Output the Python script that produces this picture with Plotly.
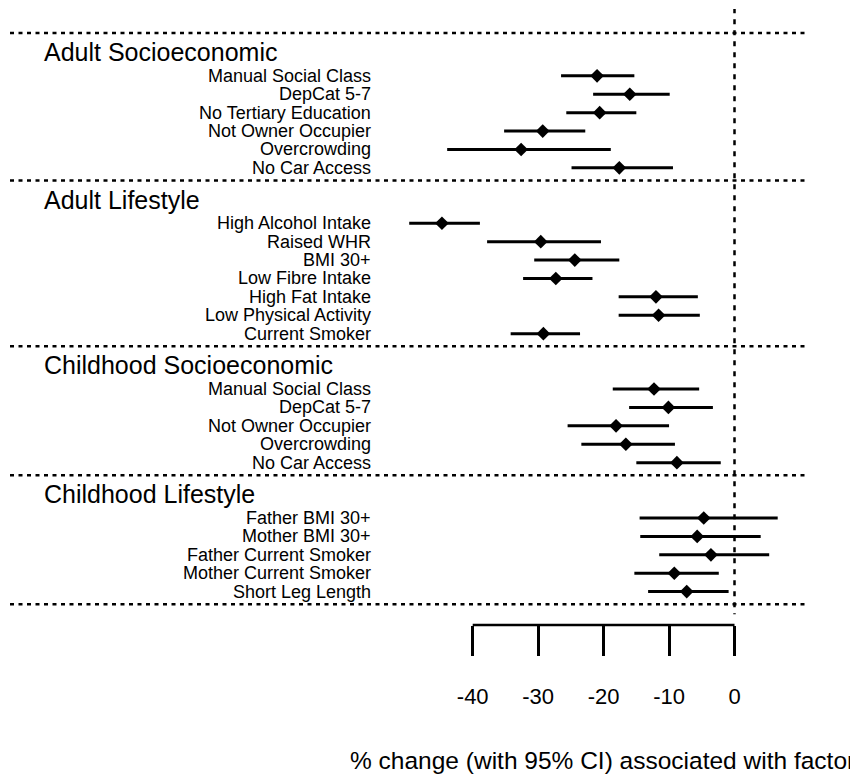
import plotly.graph_objects as go

# ---- data ----
group_names = ["Adult Socioeconomic", "Adult Lifestyle",
               "Childhood Socioeconomic", "Childhood Lifestyle"]
group_sizes = [6, 7, 5, 5]
factor_labels = [
    "Manual Social Class", "DepCat 5-7", "No Tertiary Education",
    "Not Owner Occupier", "Overcrowding", "No Car Access",
    "High Alcohol Intake", "Raised WHR", "BMI 30+", "Low Fibre Intake",
    "High Fat Intake", "Low Physical Activity", "Current Smoker",
    "Manual Social Class", "DepCat 5-7", "Not Owner Occupier",
    "Overcrowding", "No Car Access",
    "Father BMI 30+", "Mother BMI 30+", "Father Current Smoker",
    "Mother Current Smoker", "Short Leg Length",
]
estimate = [-21.0, -16.0, -20.6, -29.3, -32.6, -17.6,
            -44.7, -29.6, -24.4, -27.3, -12.0, -11.6, -29.2,
            -12.3, -10.1, -18.1, -16.6, -8.8,
            -4.7, -5.7, -3.6, -9.2, -7.3]
ci_lower = [-26.5, -21.6, -25.7, -35.2, -43.9, -24.9,
            -49.7, -37.8, -30.6, -32.3, -17.7, -17.7, -34.2,
            -18.6, -16.1, -25.5, -23.4, -15.0,
            -14.5, -14.4, -11.5, -15.3, -13.2]
ci_upper = [-15.3, -9.9, -15.0, -22.8, -18.9, -9.4,
            -38.9, -20.4, -17.6, -21.7, -5.6, -5.3, -23.6,
            -5.4, -3.3, -10.0, -9.1, -2.1,
            6.6, 4.0, 5.3, -2.4, -0.9]
tick_values = [-40, -30, -20, -10, 0]
x_title = "% change (with 95% CI) associated with factor"

# ---- row layout (in row units) ----
HEAD_OFF, FIRST_OFF, LINE_AFTER = 1.05, 2.33, 0.68
item_y, head_y, sep_y = [], [], []
pos = 0.0
for n in group_sizes:
    sep_y.append(pos)
    head_y.append(pos + HEAD_OFF)
    ys = [pos + FIRST_OFF + i for i in range(n)]
    item_y.extend(ys)
    pos = ys[-1] + LINE_AFTER
sep_y.append(pos)

FONT = "Liberation Sans, Arial, sans-serif"
PAGE_OFF = 8                      # page body margin offset
W, H = 858 - PAGE_OFF, 775 - PAGE_OFF
ML, MT = 10 - PAGE_OFF, 9 - PAGE_OFF
MR, MB = 53, 150
PW, PH = W - ML - MR, H - MT - MB

fig = go.Figure()
fig.add_trace(go.Scatter(
    x=estimate, y=item_y, mode="markers",
    marker=dict(symbol="diamond", size=10.5, color="black"),
    error_x=dict(type="data", symmetric=False,
                 array=[u - e for u, e in zip(ci_upper, estimate)],
                 arrayminus=[e - l for e, l in zip(estimate, ci_lower)],
                 width=0, thickness=3, color="black"),
    showlegend=False, hoverinfo="skip"))

shapes = []
for s in sep_y:
    shapes.append(dict(type="line", xref="paper", yref="y", x0=0, x1=1,
                       y0=s, y1=s,
                       line=dict(color="black", width=2.5, dash="4px,4.5px")))
# vertical reference line at 0
shapes.append(dict(type="line", xref="x", yref="y", x0=0, x1=0,
                   y0=-1.35, y1=sep_y[-1] + 0.55,
                   line=dict(color="black", width=2.5, dash="5px,6px")))
# axis bracket line from first to last tick
shapes.append(dict(type="line", xref="x", yref="paper",
                   x0=tick_values[0], x1=tick_values[-1], y0=0, y1=0,
                   line=dict(color="black", width=2.5)))

annotations = []
for name, hy in zip(group_names, head_y):
    annotations.append(dict(text=name, xref="paper", yref="y",
                            x=(42 - 10) / PW, y=hy,
                            xanchor="left", yanchor="middle", showarrow=False,
                            font=dict(family=FONT, size=25, color="black")))
for lab, yy in zip(factor_labels, item_y):
    annotations.append(dict(text=lab, xref="paper", yref="y",
                            x=(373 - 10) / PW, y=yy,
                            xanchor="right", yanchor="middle", showarrow=False,
                            font=dict(family=FONT, size=18, color="black")))
annotations.append(dict(text=x_title, xref="paper", yref="paper",
                        x=(348 - 10) / PW, y=-(760 - 625) / PH,
                        xanchor="left", yanchor="middle", showarrow=False,
                        font=dict(family=FONT, size=24.5, color="black")))

fig.update_layout(
    width=W, height=H,
    margin=dict(l=ML, r=MR, t=MT, b=MB),
    paper_bgcolor="white", plot_bgcolor="white",
    shapes=shapes, annotations=annotations,
    xaxis=dict(range=[(10 - 734.5) / 6.545, (805 - 734.5) / 6.545],
               tickvals=tick_values, ticktext=[str(v) for v in tick_values],
               ticks="outside", ticklen=30, tickwidth=2.5, tickcolor="black",
               ticklabelstandoff=22,
               showline=False, showgrid=False, zeroline=False,
               tickfont=dict(family=FONT, size=22, color="black")),
    yaxis=dict(range=[(625 - 33) / 18.4, (9 - 33) / 18.4],
               showticklabels=False, showgrid=False, zeroline=False,
               showline=False, ticks=""),
)
fig.write_html("out.html")
